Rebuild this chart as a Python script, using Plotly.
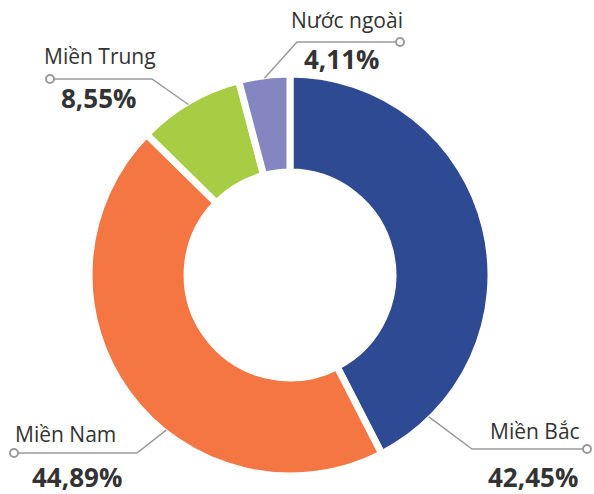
import math
import plotly.graph_objects as go

# ---- data ----
regions = ["Miền Bắc", "Miền Nam", "Miền Trung", "Nước ngoài"]
shares = [42.45, 44.89, 8.55, 4.11]
share_labels = ["42,45%", "44,89%", "8,55%", "4,11%"]
colors = ["#2E4A92", "#F37643", "#A7CD45", "#8485C1"]

# ---- layout constants (pixels) ----
W, H = 594, 494
CX, CY, R = 290, 275, 201
HOLE = 0.512
GAP = 7
# leader start angle (deg clockwise from 12 o'clock), elbow, end
leader_angle = [135.6, 218.6, 329.2, 352.6]
leader_elbow = [(472, 449), (137, 453), (152, 79), (297, 42)]
leader_end = [(587, 449), (14, 453), (50, 79), (400, 42)]
name_pos = [(535, 431), (65, 434), (100, 56), (347, 20)]
pct_pos = [(533, 477), (77, 477), (98, 98), (341, 59)]

TEXT = "#333333"
LINE = "#9A9A9A"


def px(x):
    return x / W


def py(y):
    return 1 - y / H


fig = go.Figure(
    go.Pie(
        labels=regions,
        values=shares,
        sort=False,
        direction="clockwise",
        rotation=0,
        hole=HOLE,
        textinfo="none",
        marker=dict(colors=colors, line=dict(color="white", width=GAP)),
        domain=dict(x=[px(CX - R), px(CX + R)], y=[py(CY + R), py(CY - R)]),
        showlegend=False,
    )
)

shapes = []
annotations = []
for i in range(len(regions)):
    a = math.radians(leader_angle[i])
    r0 = R - GAP / 2 + 1
    sx, sy = CX + r0 * math.sin(a), CY - r0 * math.cos(a)
    ex, ey = leader_elbow[i]
    tx, ty = leader_end[i]
    path = f"M {px(sx)} {py(sy)} L {px(ex)} {py(ey)} L {px(tx)} {py(ty)}"
    shapes.append(dict(type="path", xref="paper", yref="paper", path=path,
                       line=dict(color=LINE, width=1.5)))
    cr = 4
    shapes.append(dict(type="circle", xref="paper", yref="paper",
                       x0=px(tx - cr), x1=px(tx + cr), y0=py(ty + cr), y1=py(ty - cr),
                       line=dict(color=LINE, width=2), fillcolor="white"))
    nx, ny = name_pos[i]
    annotations.append(dict(x=px(nx), y=py(ny), xref="paper", yref="paper",
                            text=regions[i], showarrow=False,
                            xanchor="center", yanchor="middle",
                            font=dict(family="Open Sans", size=21, color=TEXT)))
    qx, qy = pct_pos[i]
    annotations.append(dict(x=px(qx), y=py(qy), xref="paper", yref="paper",
                            text=f"<b>{share_labels[i]}</b>", showarrow=False,
                            xanchor="center", yanchor="middle", height=30,
                            valign="middle",
                            font=dict(family="Open Sans", size=26, color=TEXT)))

fig.update_layout(
    width=W, height=H,
    margin=dict(l=0, r=0, t=0, b=0),
    paper_bgcolor="white", plot_bgcolor="white",
    shapes=shapes, annotations=annotations,
)

fig.write_html(
    "out.html",
    config={"displayModeBar": False},
    post_script="document.body.style.margin='0';document.body.style.overflow='hidden';",
)
